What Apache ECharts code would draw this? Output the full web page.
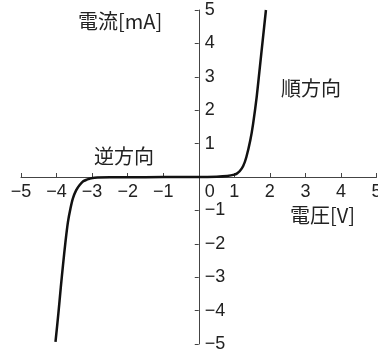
<!DOCTYPE html>
<html><head><meta charset="utf-8">
<script src="https://cdn.jsdelivr.net/npm/echarts@6/dist/echarts.min.js"></script>
<style>html,body{margin:0;padding:0;background:#fff}#c{width:378px;height:350px}</style>
</head><body><div id="c"></div>
<script>
// Diode I-V characteristic
const voltage = [-4.03, -3.95, -3.88, -3.82, -3.75, -3.68, -3.61, -3.54, -3.45, -3.35, -3.25, -3.15, -3.07, -2.93, -2.5, -2.0, -1.0, 0, 0.5, 0.8, 1.0, 1.08, 1.15, 1.25, 1.34, 1.45, 1.53, 1.63, 1.72, 1.80, 1.89];
const current = [-4.94, -4.1, -3.3, -2.65, -1.95, -1.35, -0.95, -0.64, -0.4, -0.24, -0.13, -0.08, -0.05, -0.02, -0.01, -0.01, 0, 0, 0.01, 0.03, 0.07, 0.11, 0.17, 0.33, 0.6, 1.1, 1.6, 2.4, 3.3, 4.1, 5.0];
const xTicks = [-5, -4, -3, -2, -1, 0, 1, 2, 3, 4, 5];
const yTicks = [-5, -4, -3, -2, -1, 0, 1, 2, 3, 4, 5];
const yTitle = '電流[mA]';
const xTitle = '電圧[V]';
const fwdLabel = '順方向';
const revLabel = '逆方向';

const fmt = v => (v < 0 ? '\u2212' + Math.abs(v) : String(v));
const chart = echarts.init(document.getElementById('c'), null, {renderer: 'canvas'});
const cjk = '"Noto Sans CJK JP", sans-serif';
const num = '"Liberation Sans", Arial, sans-serif';
chart.setOption({
  animation: false,
  grid: {left: 21, right: 1.5, top: 10, bottom: 6, containLabel: false, outerBoundsMode: 'none'},
  xAxis: {
    type: 'value', min: xTicks[0], max: xTicks[xTicks.length - 1], interval: 1,
    axisLine: {onZero: false, lineStyle: {color: '#444', width: 1}},
    axisTick: {inside: true, length: 4, lineStyle: {color: '#444'}},
    splitLine: {show: false},
    axisLabel: {
      margin: 6, color: '#222', fontFamily: num, fontSize: 18,
      showMaxLabel: true, showMinLabel: true, hideOverlap: false,
      formatter: v => v === 0 ? '{z|0}' : fmt(v),
      rich: {z: {padding: [0, 0, 0, 22], fontFamily: num, fontSize: 18, color: '#222'}}
    }
  },
  yAxis: {
    type: 'value', min: yTicks[0], max: yTicks[yTicks.length - 1], interval: 1,
    axisLine: {onZero: false, lineStyle: {color: '#444', width: 1}},
    axisTick: {inside: false, length: 4, lineStyle: {color: '#444'}},
    splitLine: {show: false},
    axisLabel: {
      inside: true, margin: 6, color: '#222', fontFamily: num, fontSize: 18,
      showMaxLabel: true, showMinLabel: true, hideOverlap: false,
      formatter: v => v === 0 ? '' : fmt(v)
    }
  },
  series: [{
    type: 'line', data: voltage.map((v, i) => [v, current[i]]),
    smooth: 0.3, showSymbol: false, clip: false,
    lineStyle: {color: '#111', width: 2.5}
  }],
  graphic: [
    {type: 'text', left: 78, top: 11, style: {text: yTitle, font: '20px ' + cjk, fill: '#222'}},
    {type: 'text', left: 290, top: 205, style: {text: xTitle, font: '20px ' + cjk, fill: '#222'}},
    {type: 'text', left: 281, top: 78, style: {text: fwdLabel, font: '20px ' + cjk, fill: '#222'}},
    {type: 'text', left: 94, top: 146, style: {text: revLabel, font: '20px ' + cjk, fill: '#222'}}
  ]
});
// Move both axes to cross at the data origin, using the library's own scales
const zero = chart.convertToPixel({gridIndex: 0}, [0, 0]);
const corner = chart.convertToPixel({gridIndex: 0}, [xTicks[0], yTicks[0]]);
chart.setOption({
  xAxis: {offset: -(corner[1] - zero[1])},
  yAxis: {offset: -(zero[0] - corner[0])}
});
</script></body></html>
